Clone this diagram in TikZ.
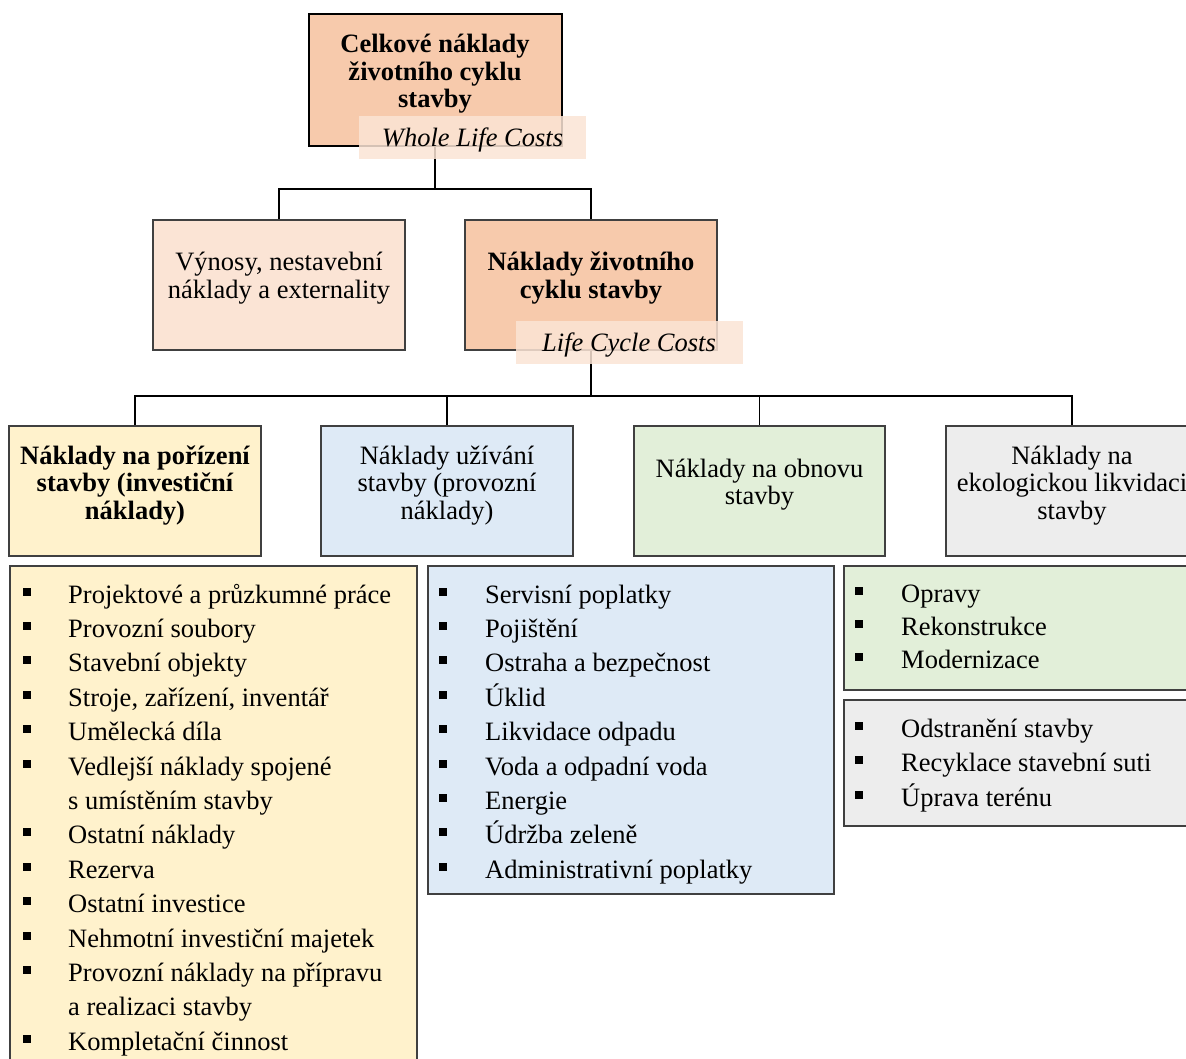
\documentclass[tikz,border=0pt]{standalone}
\usepackage{fontspec}
\setmainfont{Liberation Serif}
\newcommand\bodysize{\fontsize{26.5}{27.5}\selectfont}
\newcommand\boxlines[1]{\begin{tabular}[t]{@{}c@{}}#1\end{tabular}}
\definecolor{peachD}{HTML}{F7CAAC}
\definecolor{peachL}{HTML}{FBE4D5}
\definecolor{sand}{HTML}{FFF2CC}
\definecolor{sky}{HTML}{DEEAF6}
\definecolor{sage}{HTML}{E2EFD9}
\definecolor{mist}{HTML}{EDEDED}
\definecolor{edge}{HTML}{404040}
\pgfdeclarelayer{bg}
\pgfdeclarelayer{paper}
\pgfsetlayers{paper,bg,main}

\begin{document}
\begin{tikzpicture}[x=1pt,y=-1pt,
  cell/.style={draw=edge, line width=1.1pt, inner sep=0pt, outer sep=0pt},
  tag/.style={fill=peachL, fill opacity=0.85, inner sep=0pt, minimum width=227pt, minimum height=43pt},
  txt/.style={inner sep=0pt, anchor=base, font=\bodysize},
  item/.style={inner sep=0pt, anchor=base west, font=\bodysize},
  dot/.style={fill=black, inner sep=0pt, minimum size=8pt},
  link/.style={draw=black, line width=1.4pt}]
\useasboundingbox (0,0) rectangle (1186,1059);
\begin{pgfonlayer}{paper}
\fill[white] (0,0) rectangle (1186,1059);
\end{pgfonlayer}
\clip (0,0) rectangle (1186,1059);

% --- whole life costs
\node[cell, draw=black, line width=2pt, fill=peachD, minimum width=253pt, minimum height=132pt] (wlc) at (435,80) {};
\node[txt, font=\bodysize\bfseries] (wlct) at (435,53) {\boxlines{Celkové náklady\\životního cyklu\\stavby}};

% --- second level
\node[cell, fill=peachL, minimum width=252pt, minimum height=130pt] (rev) at (279,285) {};
\node[txt] (revt) at (279,271) {\boxlines{Výnosy, nestavební\\náklady a externality}};
\node[cell, fill=peachD, minimum width=252pt, minimum height=130pt] (lcc) at (591,285) {};
\node[txt, font=\bodysize\bfseries] (lcct) at (591,271) {\boxlines{Náklady životního\\cyklu stavby}};

% --- English tags
\node[tag] (wlctag) at (472.5,137.5) {};
\node[txt, font=\bodysize\itshape] (wlctagt) at (472.5,147) {Whole Life Costs};
\node[tag] (lcctag) at (629,342.5) {};
\node[txt, font=\bodysize\itshape] (lcctagt) at (629,351) {Life Cycle Costs};

% --- third level
\node[cell, fill=sand, minimum width=252pt, minimum height=130pt] (nA) at (135,491) {};
\node[txt, font=\bodysize\bfseries] (nAt) at (135,464) {\boxlines{Náklady na pořízení\\stavby (investiční\\náklady)}};
\node[cell, fill=sky, minimum width=252pt, minimum height=130pt] (nB) at (447,491) {};
\node[txt] (nBt) at (447,464) {\boxlines{Náklady užívání\\stavby (provozní\\náklady)}};
\node[cell, fill=sage, minimum width=251pt, minimum height=130pt] (nC) at (759.5,491) {};
\node[txt] (nCt) at (759.5,477) {\boxlines{Náklady na obnovu\\stavby}};
\node[cell, fill=mist, minimum width=252pt, minimum height=130pt] (nD) at (1072,491) {};
\node[txt] (nDt) at (1072,464) {\boxlines{Náklady na\\ekologickou likvidaci\\stavby}};

% --- item lists
\node[cell, fill=sand, minimum width=407pt, minimum height=504pt] (lA) at (213.5,818) {};
\node[cell, fill=sky, minimum width=406pt, minimum height=328pt] (lB) at (631,730) {};
\node[cell, fill=sage, minimum width=352pt, minimum height=124pt] (lC) at (1020,628) {};
\node[cell, fill=mist, minimum width=352pt, minimum height=126pt] (lD) at (1020,763) {};

\foreach \b/\t [count=\i] in {
  1/Projektové a průzkumné práce, 1/Provozní soubory, 1/Stavební objekty,
  1/{Stroje, zařízení, inventář}, 1/Umělecká díla, 1/Vedlejší náklady spojené,
  0/s umístěním stavby, 1/Ostatní náklady, 1/Rezerva, 1/Ostatní investice,
  1/Nehmotní investiční majetek, 1/Provozní náklady na přípravu,
  0/a realizaci stavby, 1/Kompletační činnost} {
  \node[item] (A\i) at (68,{603+34.4*(\i-1)}) {\t};
  \ifnum\b=1 \node[dot] (Ab\i) at (27,{591.5+34.4*(\i-1)}) {}; \fi
}
\foreach \t [count=\i] in {Servisní poplatky, Pojištění, Ostraha a bezpečnost,
  Úklid, Likvidace odpadu, Voda a odpadní voda, Energie, Údržba zeleně,
  Administrativní poplatky} {
  \node[item] (B\i) at (485,{603+34.4*(\i-1)}) {\t};
  \node[dot] (Bb\i) at (443,{591.5+34.4*(\i-1)}) {};
}
\foreach \t [count=\i] in {Opravy, Rekonstrukce, Modernizace} {
  \node[item] (C\i) at (901,{602+33*(\i-1)}) {\t};
  \node[dot] (Cb\i) at (859,{590.5+33*(\i-1)}) {};
}
\foreach \t [count=\i] in {Odstranění stavby, Recyklace stavební suti, Úprava terénu} {
  \node[item] (D\i) at (901,{737+34.5*(\i-1)}) {\t};
  \node[dot] (Db\i) at (859,{725.5+34.5*(\i-1)}) {};
}

% --- connectors, drawn beneath the boxes
\begin{pgfonlayer}{bg}
\coordinate (bus1) at (435,189);
\draw[link] (wlc.south) -- (bus1) -| (rev.north);
\draw[link] (bus1) -| (lcc.north);
\coordinate (bus2) at (591,396);
\draw[link] (lcc.south) -- (bus2);
\draw[link] (nA.north) |- (nD.north |- bus2) -- (nD.north);
\draw[link] (nB.north) -- (nB.north |- bus2);
\draw[link] (nC.north) -- (nC.north |- bus2);
\end{pgfonlayer}
\end{tikzpicture}
\end{document}
